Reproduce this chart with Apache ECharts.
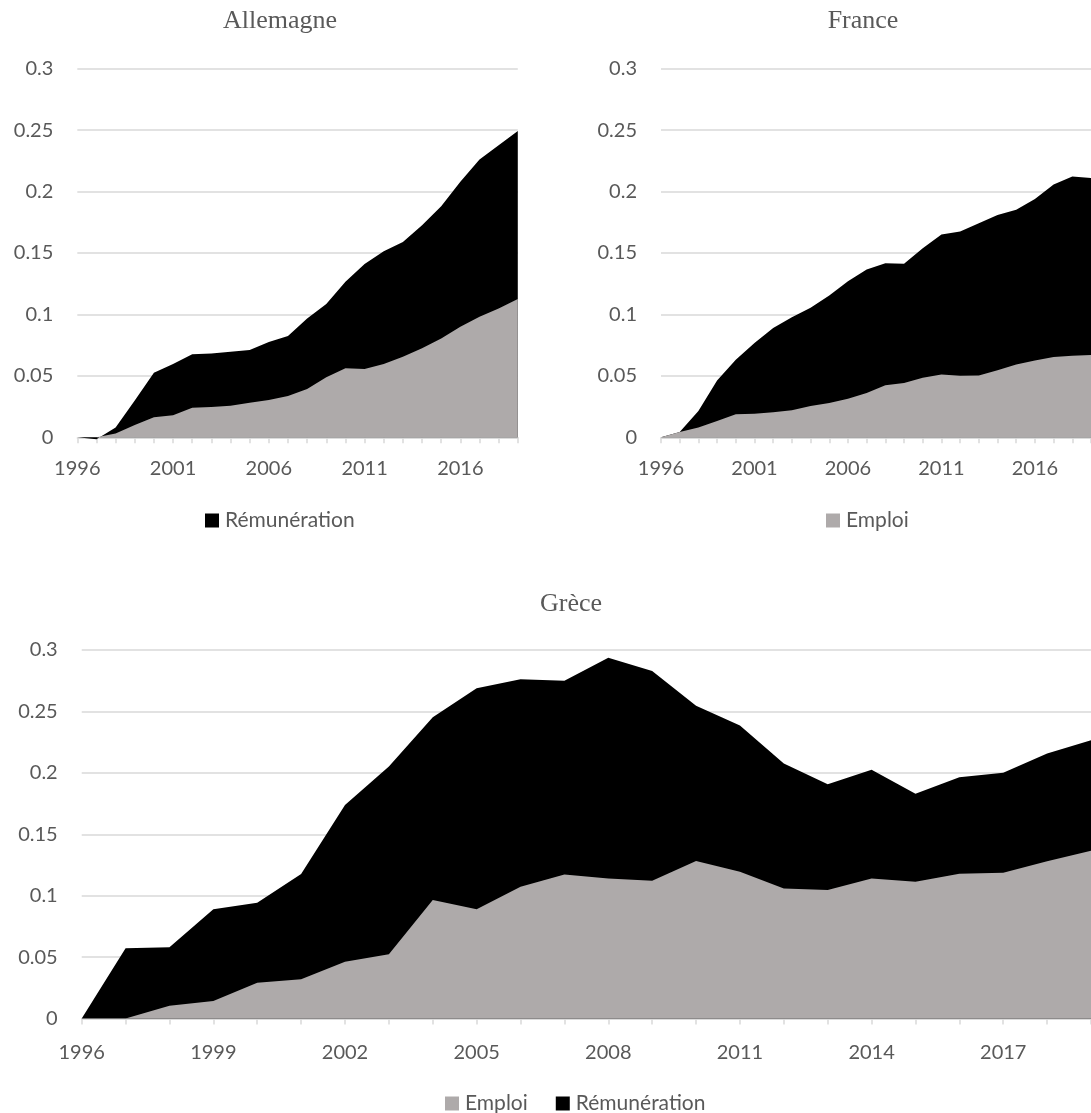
<!DOCTYPE html>
<html>
<head>
<meta charset="utf-8">
<script src="https://cdn.jsdelivr.net/npm/echarts@6/dist/echarts.min.js"></script>
<style>
html, body { margin: 0; padding: 0; background: #fff; }
#chart { width: 1091px; height: 1113px; }
</style>
</head>
<body>
<div id="chart"></div>
<script>
var years = ['1996', '1997', '1998', '1999', '2000', '2001', '2002', '2003', '2004', '2005', '2006', '2007',
	'2008', '2009', '2010', '2011', '2012', '2013', '2014', '2015', '2016', '2017', '2018', '2019'];

// top of the black area (emploi + rémunération) and the grey part (emploi)
var deTotal = [0, -0.0015, 0.008, 0.030, 0.0526, 0.0596, 0.0675, 0.0683, 0.0697, 0.071, 0.0775, 0.0824,
	0.0967, 0.1084, 0.1266, 0.141, 0.1515, 0.159, 0.1726, 0.188, 0.208, 0.226, 0.2377, 0.2493];
var deEmploi = [0, 0, 0.003, 0.010, 0.0163, 0.0179, 0.0241, 0.0247, 0.0257, 0.0282, 0.0304, 0.0336,
	0.0393, 0.0488, 0.0561, 0.0556, 0.0596, 0.0656, 0.0724, 0.0805, 0.090, 0.0981, 0.1049, 0.1125];

var frTotal = [0, 0.0043, 0.0214, 0.0463, 0.0631, 0.0767, 0.0889, 0.0978, 0.1054, 0.1154, 0.1271, 0.1366,
	0.1417, 0.1412, 0.1539, 0.165, 0.1675, 0.1743, 0.181, 0.1851, 0.194, 0.2057, 0.2122, 0.211];
var frEmploi = [0, 0.0043, 0.0079, 0.0133, 0.0187, 0.0192, 0.0203, 0.022, 0.0255, 0.0279, 0.0314, 0.036,
	0.0423, 0.0442, 0.0485, 0.0512, 0.0501, 0.0504, 0.0545, 0.0593, 0.0626, 0.0653, 0.0664, 0.0669];

var grTotal = [0, 0.0571, 0.058, 0.0889, 0.0943, 0.1177, 0.1739, 0.2051, 0.2453, 0.2689, 0.2762, 0.275,
	0.2936, 0.283, 0.2547, 0.2386, 0.2075, 0.1908, 0.2025, 0.183, 0.1964, 0.200, 0.2158, 0.2265];
var grEmploi = [0, 0, 0.0104, 0.0143, 0.0292, 0.0319, 0.0463, 0.0523, 0.0965, 0.0889, 0.1073, 0.1172,
	0.1139, 0.1122, 0.1283, 0.1194, 0.1058, 0.1047, 0.1139, 0.1114, 0.1178, 0.1186, 0.128, 0.1366];

var titles = ['Allemagne', 'France', 'Grèce'];

var GREY = '#aeaaaa';
var BLACK = '#000000';
var LINE = '#d9d9d9';
var TEXT = '#595959';
var SANS = 'Lato, "Noto Sans", sans-serif';
var SERIF = '"Liberation Serif", "DejaVu Serif", serif';

function getXAxis(index, labelStep, margin) {
	return {
		type: 'category',
		gridIndex: index,
		data: years,
		boundaryGap: false,
		axisLine: { lineStyle: { color: LINE, width: 1.5 } },
		axisTick: { interval: 0, length: 6, lineStyle: { color: LINE, width: 1.5 } },
		axisLabel: { interval: labelStep, margin: margin, color: TEXT, fontFamily: SANS, fontSize: 20 },
		splitLine: { show: false }
	};
}

function getYAxis(index) {
	return {
		type: 'value',
		gridIndex: index,
		min: 0,
		max: 0.3,
		interval: 0.05,
		axisLine: { show: false },
		axisTick: { show: false },
		axisLabel: { margin: 24, color: TEXT, fontFamily: SANS, fontSize: 20 },
		splitLine: { lineStyle: { color: LINE, width: 1.5 } }
	};
}

function getArea(name, data, color, index) {
	return {
		name: name,
		type: 'line',
		xAxisIndex: index,
		yAxisIndex: index,
		data: data,
		showSymbol: false,
		symbol: 'none',
		clip: false,
		silent: true,
		lineStyle: { width: 0, color: color },
		itemStyle: { color: color },
		areaStyle: { color: color, opacity: 1 }
	};
}

function getLegend(names, left, top) {
	return {
		data: names,
		left: left,
		top: top,
		padding: 0,
		icon: 'rect',
		itemWidth: 14,
		itemHeight: 14,
		itemGap: 28,
		selectedMode: false,
		textStyle: { color: TEXT, fontFamily: SANS, fontSize: 21, padding: [0, 0, 0, 1] }
	};
}

function getTitle(text, x, y) {
	return {
		type: 'text',
		x: x,
		y: y,
		style: {
			text: text,
			fill: TEXT,
			font: '26px ' + SERIF,
			textAlign: 'center',
			textVerticalAlign: 'middle'
		}
	};
}

var chart = echarts.init(document.getElementById('chart'));

var option = {
	animation: false,
	grid: [
		{ left: 77.3, top: 68.7, width: 440.5, height: 368.6 },
		{ left: 661, top: 68.7, width: 440.5, height: 368.6 },
		{ left: 81.7, top: 650, width: 1016.6, height: 368.5 }
	],
	xAxis: [getXAxis(0, 4, 21), getXAxis(1, 4, 21), getXAxis(2, 2, 24)],
	yAxis: [getYAxis(0), getYAxis(1), getYAxis(2)],
	legend: [
		getLegend(['Rémunération'], 205, 510),
		getLegend(['Emploi'], 826, 510),
		getLegend(['Emploi', 'Rémunération'], 445, 1093)
	],
	graphic: [
		getTitle(titles[0], 280, 21),
		getTitle(titles[1], 863, 21),
		getTitle(titles[2], 571, 604)
	],
	series: [
		getArea('Rémunération', deTotal, BLACK, 0),
		getArea('Emploi', deEmploi, GREY, 0),
		getArea('Rémunération', frTotal, BLACK, 1),
		getArea('Emploi', frEmploi, GREY, 1),
		getArea('Rémunération', grTotal, BLACK, 2),
		getArea('Emploi', grEmploi, GREY, 2)
	]
};

chart.setOption(option);
</script>
</body>
</html>
